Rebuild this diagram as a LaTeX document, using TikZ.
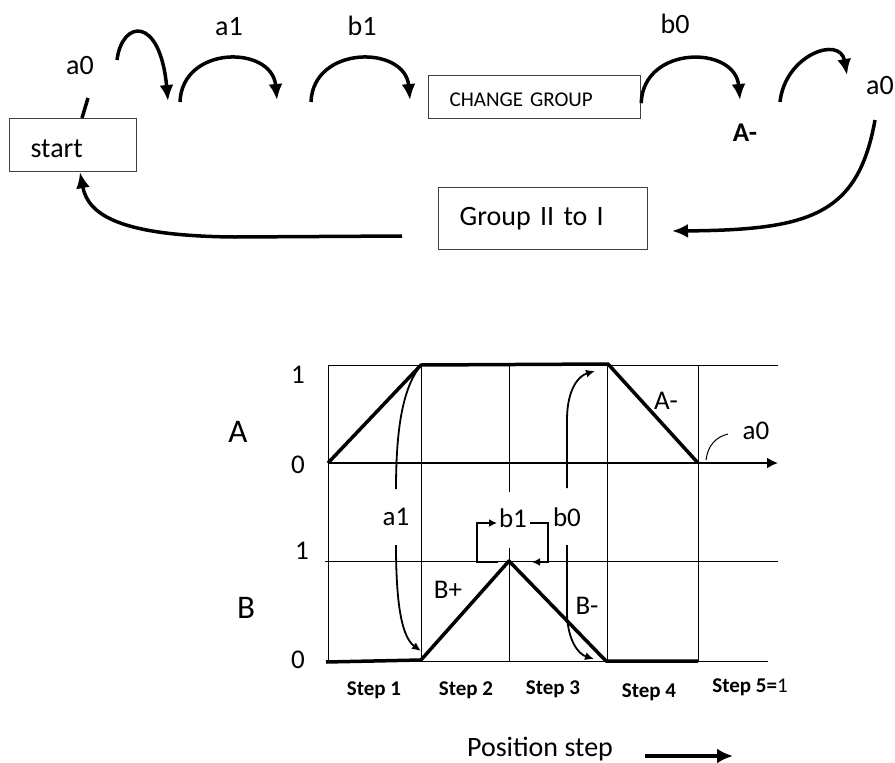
\documentclass[tikz,border=0pt]{standalone}
\usepackage{fontspec}
\setmainfont{Carlito}
\usetikzlibrary{arrows.meta}
\begin{document}
\begin{tikzpicture}[x=1pt,y=-1pt,
 every node/.style={inner sep=0pt},
 boxnode/.style={draw=black!75,line width=1.2pt,anchor=north west,align=left,inner xsep=21pt,inner ysep=0pt},
 lbl/.style={anchor=base,font=\fontsize{28}{32}\selectfont},
 glbl/.style={anchor=base,font=\fontsize{27}{30}\selectfont},
 steplbl/.style={anchor=base,font=\fontsize{21}{24}\selectfont\bfseries},
 bigarc/.style={line width=3.5pt,-{Latex[length=16pt,width=14pt]}},
 gridln/.style={line width=0.9pt},
 thickln/.style={line width=3.5pt,line join=round},
 garr/.style={line width=1.8pt,-{Latex[length=9pt,width=8pt]}},
 gln/.style={line width=1.8pt}
]
\useasboundingbox (0,0) rectangle (895,763);
% ---------- top sequence ----------
\node[boxnode,font=\fontsize{28}{32}\selectfont,text width=85pt,text height=39pt,text depth=14pt] (start) at (9,118) {start};
\node[boxnode,font=\fontsize{21}{24}\selectfont,text width=170pt,text height=31pt,text depth=12pt] (chg) at (428,75) {CHANGE GROUP};
\node[boxnode,font=\fontsize{28}{32}\selectfont,text width=167pt,text height=38pt,text depth=24pt] (grp) at (438,187) {Group II to I};

\node[lbl] (la0) at (80,74) {a0};
\node[lbl] (la1) at (229,35) {a1};
\node[lbl] (lb1) at (362,35) {b1};
\node[lbl] (lb0) at (675,33) {b0};
\node[lbl,font=\fontsize{27}{30}\selectfont\bfseries] (Am) at (745,141) {A-};
\node[lbl] (ra0) at (880,94) {a0};

\coordinate (t0) at (88,98);
\coordinate (s1) at (117,60);  \coordinate (e1) at (168,101);
\coordinate (s2) at (180,102); \coordinate (e2) at (277,100);
\coordinate (s3) at (311,102); \coordinate (e3) at (410,100);
\coordinate (e4) at (740,100);
\coordinate (s5) at (780,102); \coordinate (e5) at (847,75);
\coordinate (s6) at (875,120); \coordinate (e6) at (672,231);
\coordinate (s7) at (402,236);

\draw[line width=3.5pt] ([xshift=73pt]start.north west) -- (t0);
\draw[bigarc] (s1) .. controls (122,20) and (160,15) .. (e1);
\draw[bigarc] (s2) .. controls (182,45) and (272,45) .. (e2);
\draw[bigarc] (s3) .. controls (313,45) and (405,45) .. (e3);
\draw[bigarc] ([yshift=16pt]chg.south east) .. controls (643,45) and (735,45) .. (e4);
\draw[bigarc] (s5) .. controls (785,55) and (840,35) .. (e5);
\draw[bigarc] (s6) .. controls (858,215) and (810,230) .. (e6);
\draw[bigarc] (s7) -- (235,237) .. controls (120,236) and (88,215) .. ([xshift=71pt]start.south west);

% ---------- timing diagram ----------
\draw[gridln] (328,365) -- (778,365);
\draw[gridln] (325,561) -- (778,561);
\draw[gridln] (326,661) -- (768,661);
\draw[gridln] (328,365) -- (328,661);
\draw[gridln] (421,365) -- (421,661);
\draw[gridln] (509,365) -- (509,492);
\draw[gridln] (509,548) -- (509,661);
\draw[gridln] (607,365) -- (607,661);
\draw[gridln] (698,365) -- (698,661);
\draw[line width=2pt,-{Latex[length=11pt,width=11pt]}] (328,463) -- (778,463);

\draw[thickln] (328,463) -- (421,365) -- (608,364) -- (698,463);
\draw[thickln] (326,662) -- (421,660) -- (509,561) -- (606,661) -- (698,661);

\node[glbl] (y1a) at (298,383) {1};
\node[glbl] (y0a) at (298,473) {0};
\node[glbl] (y1b) at (302,559) {1};
\node[glbl] (y0b) at (298,668) {0};
\node[anchor=base,font=\fontsize{33}{36}\selectfont] (sigA) at (238,442) {A};
\node[anchor=base,font=\fontsize{33}{36}\selectfont] (sigB) at (246,618) {B};

\node[glbl] (ga1) at (396,525) {a1};
\node[glbl] (gb1) at (513,527) {b1};
\node[glbl] (gb0) at (567,526) {b0};
\node[glbl] (gAm) at (666,409) {A-};
\node[glbl] (ga0) at (756,439) {a0};
\node[glbl] (gBp) at (448,598) {B+};
\node[glbl] (gBm) at (587,614) {B-};

% a1 arrow
\draw[gln] (396,489) .. controls (396,420) and (405,385) .. (421,365);
\draw[garr] (396,545) .. controls (396,610) and (403,638) .. (421,651);
% b0 arrows
\draw[garr] (567,488) -- (567,420) .. controls (567,390) and (578,376) .. (595,371);
\draw[garr] (567,545) -- (567,615) .. controls (568,640) and (578,654) .. (594,659);
% b1 loop
\draw[garr,-{Latex[length=8pt,width=8pt]}] (498,562) -- (477,562) -- (477,523) -- (497,523);
\draw[garr,-{Latex[length=8pt,width=8pt]}] (530,523) -- (548,523) -- (548,562) -- (532,562);
% a0 pointer
\draw[line width=1pt] (706,460) .. controls (708,445) and (716,437) .. (728,434);

\node[steplbl] (st1) at (374,695) {Step 1};
\node[steplbl] (st2) at (466,695) {Step 2};
\node[steplbl] (st3) at (553,694) {Step 3};
\node[steplbl] (st4) at (649,697) {Step 4};
\node[steplbl] (st5) at (750,692) {Step 5=\mdseries 1};

\node[lbl] (pos) at (540,756) {Position step};
\coordinate (p1) at (645,756); \coordinate (p2) at (733,756);
\draw[line width=4.5pt,-{Latex[length=16pt,width=15pt]}] (p1) -- (p2);
\end{tikzpicture}
\end{document}
